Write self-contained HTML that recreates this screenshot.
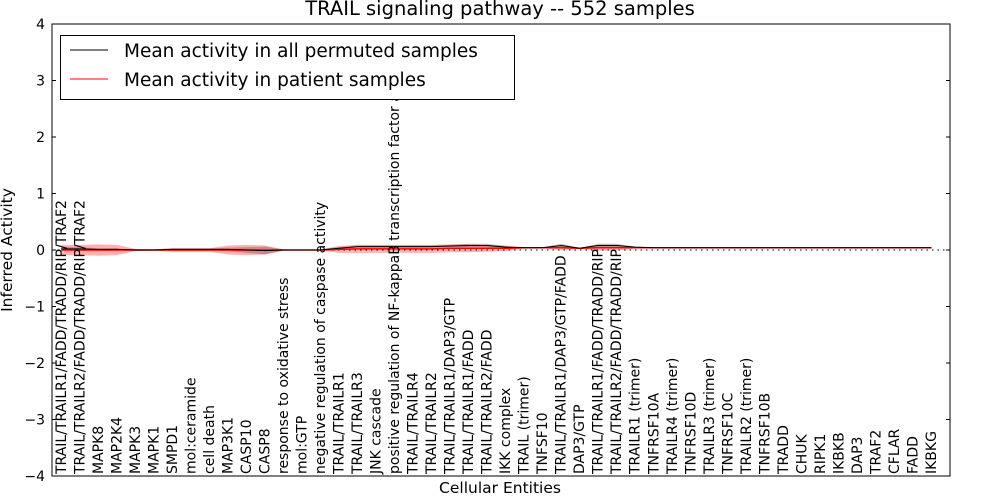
<!DOCTYPE html>
<html><head><meta charset="utf-8"><style>
body{margin:0;background:#fff}
svg{display:block;font-family:"DejaVu Sans","Liberation Sans",sans-serif}
</style></head><body>
<svg id="chart" width="1000" height="500"></svg>
<script>
const categories=["TRAIL/TRAILR1/FADD/TRADD/RIP/TRAF2","TRAIL/TRAILR2/FADD/TRADD/RIP/TRAF2","MAPK8","MAP2K4","MAPK3","MAPK1","SMPD1","mol:ceramide","cell death","MAP3K1","CASP10","CASP8","response to oxidative stress","mol:GTP","negative regulation of caspase activity","TRAIL/TRAILR1","TRAIL/TRAILR3","JNK cascade","positive regulation of NF-kappaB transcription factor activity","TRAIL/TRAILR4","TRAIL/TRAILR2","TRAIL/TRAILR1/DAP3/GTP","TRAIL/TRAILR1/FADD","TRAIL/TRAILR2/FADD","IKK complex","TRAIL (trimer)","TNFSF10","TRAIL/TRAILR1/DAP3/GTP/FADD","DAP3/GTP","TRAIL/TRAILR1/FADD/TRADD/RIP","TRAIL/TRAILR2/FADD/TRADD/RIP","TRAILR1 (trimer)","TNFRSF10A","TRAILR4 (trimer)","TNFRSF10D","TRAILR3 (trimer)","TNFRSF10C","TRAILR2 (trimer)","TNFRSF10B","TRADD","CHUK","RIPK1","IKBKB","DAP3","TRAF2","CFLAR","FADD","IKBKG"];
const permMean=[0.02,0.02,0.01,0.01,0,0,0.01,0.01,0.01,0.01,0,-0.01,0,0,0,0.03,0.06,0.06,0.06,0.06,0.06,0.07,0.08,0.08,0.05,0.04,0.04,0.08,0.03,0.08,0.08,0.05,0.04,0.04,0.04,0.04,0.04,0.04,0.04,0.04,0.04,0.04,0.04,0.04,0.04,0.04,0.04,0.04];
const permStd=[0.03,0.03,0.02,0.02,0.01,0.01,0.02,0.02,0.02,0.03,0.05,0.07,0.01,0,0.01,0.02,0.02,0.02,0.02,0.02,0.02,0.02,0.03,0.03,0.02,0.01,0.01,0.03,0.01,0.03,0.03,0.01,0.01,0.01,0.01,0.01,0.01,0.01,0.01,0.01,0.01,0.01,0.01,0.01,0.01,0.01,0.01,0.01];
const patMean=[0,0,0,0,0,0,0,0,0,0,0,0,0,0,0,0.01,0.02,0.02,0.02,0.02,0.02,0.03,0.03,0.03,0.03,0.04,0.04,0.04,0.03,0.04,0.04,0.04,0.04,0.04,0.04,0.04,0.04,0.04,0.04,0.04,0.04,0.04,0.04,0.04,0.04,0.04,0.04,0.04];
const patStd=[0.09,0.09,0.1,0.09,0.02,0.01,0.03,0.03,0.03,0.08,0.09,0.08,0.01,0,0.01,0.06,0.07,0.07,0.07,0.07,0.07,0.07,0.07,0.06,0.05,0.01,0.01,0.04,0.01,0.05,0.05,0.01,0.01,0.01,0.01,0.01,0.01,0.01,0.01,0.01,0.01,0.01,0.01,0.01,0.01,0.01,0.01,0.01];
const yTicks=[-4,-3,-2,-1,0,1,2,3,4];
const tickLabels=["\u22124","\u22123","\u22122","\u22121","0","1","2","3","4"];

const NS="http://www.w3.org/2000/svg";
const svg=document.getElementById('chart');
const L=52,R=950,T=24,B=476;
const xs=i=>L+(i+0.5)*(R-L)/(categories.length+0.5);
const ys=v=>T+(4-v)*(B-T)/8;
function mk(tag,attrs,parent){const e=document.createElementNS(NS,tag);for(const k in attrs)e.setAttribute(k,attrs[k]);(parent||svg).appendChild(e);return e;}
function band(m,s){let up=m.map((v,i)=>xs(i)+','+ys(v+s[i]));let dn=m.map((v,i)=>xs(i)+','+ys(v-s[i])).reverse();return up.concat(dn).join(' ');}
function line(m){return m.map((v,i)=>xs(i)+','+ys(v)).join(' ');}

const title=mk('text',{x:500,y:15,'text-anchor':'middle','font-size':19.5});title.textContent='TRAIL signaling pathway -- 552 samples';



const pb=mk('polygon',{points:band(permMean,permStd),fill:'#000','fill-opacity':0.25,stroke:'none'});


const rb=mk('polygon',{points:band(patMean,patStd),fill:'#f00','fill-opacity':0.3,stroke:'none'});


const zl=mk('line',{x1:L,x2:R,y1:ys(0),y2:ys(0),stroke:'#000','stroke-dasharray':'1.5,4','stroke-width':1});


const rl=mk('polyline',{points:line(patMean),fill:'none',stroke:'#f00','stroke-width':1.5});


const bl=mk('polyline',{points:line(permMean),fill:'none',stroke:'#000','stroke-width':1});



categories.forEach((c,i)=>{const x=xs(i)+4.5;const t=mk('text',{x:x,y:B-2,transform:`rotate(-90 ${x} ${B-2})`,'font-size':14});t.textContent=c;

});

yTicks.forEach((v,i)=>{const y=ys(v);mk('line',{x1:L,x2:L+4,y1:y,y2:y,stroke:'#000'});mk('line',{x1:R,x2:R-4,y1:y,y2:y,stroke:'#000'});
const t=mk('text',{x:L-7,y:y+5,'text-anchor':'end','font-size':14});t.textContent=tickLabels[i];

});

const fr=mk('rect',{x:L,y:T,width:R-L,height:B-T,fill:'none',stroke:'#000','stroke-width':1});



const yt=mk('text',{x:12,y:250,transform:'rotate(-90 12 250)','text-anchor':'middle','font-size':15.5});yt.textContent='Inferred Activity';


const xt=mk('text',{x:500,y:493,'text-anchor':'middle','font-size':15.5});xt.textContent='Cellular Entities';



const lg=mk('g',{});


mk('rect',{x:60.5,y:35.5,width:454,height:64,fill:'#fff',stroke:'#000'},lg);
mk('line',{x1:70,x2:108,y1:50,y2:50,stroke:'#000'},lg);
const l1=mk('text',{x:124,y:57,'font-size':18.5},lg);l1.textContent='Mean activity in all permuted samples';


mk('line',{x1:70,x2:108,y1:79,y2:79,stroke:'#f00'},lg);
const l2=mk('text',{x:124,y:86,'font-size':18.5},lg);l2.textContent='Mean activity in patient samples';


</script>
</body></html>
